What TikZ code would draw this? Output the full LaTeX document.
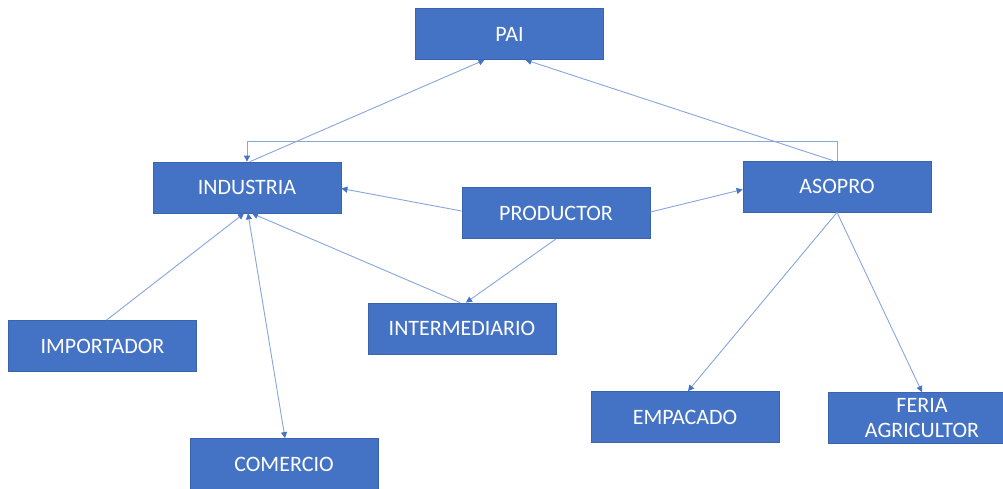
\documentclass[tikz,border=0pt]{standalone}
\usepackage{fontspec}
\setmainfont{Carlito}
\usetikzlibrary{arrows.meta}
\definecolor{boxfill}{HTML}{4472C4}
\definecolor{boxedge}{HTML}{3A64AE}
\definecolor{linkcol}{HTML}{86A6DC}
\definecolor{tipcol}{HTML}{4472C4}
\tikzset{
  orgbox/.style={draw=boxedge, line width=0.8pt, fill=boxfill, text=white,
    minimum width=188pt, minimum height=51pt, inner sep=0pt, align=center,
    font=\fontsize{22}{25}\selectfont},
  link/.style={draw=linkcol, line width=0.9pt,
    -{Triangle[width=6pt,length=6pt,fill=tipcol,color=tipcol]}},
  dlink/.style={draw=linkcol, line width=0.9pt,
    {Triangle[width=6pt,length=6pt,fill=tipcol,color=tipcol]}-{Triangle[width=6pt,length=6pt,fill=tipcol,color=tipcol]}}
}
\begin{document}
\begin{tikzpicture}[x=1pt,y=-1pt]
\useasboundingbox (0,0) rectangle (1003,488);
\fill[white] (0,0) rectangle (1003,488);
\node[orgbox] (pai) at (509.5,34) {PAI};
\node[orgbox] (ind) at (247,187.5) {INDUSTRIA};
\node[orgbox] (prod) at (556,213) {PRODUCTOR};
\node[orgbox] (aso) at (837,186.5) {ASOPRO};
\node[orgbox] (imp) at (102.5,346) {IMPORTADOR};
\node[orgbox] (inter) at (462,328.5) {INTERMEDIARIO};
\node[orgbox] (com) at (284,464) {COMERCIO};
\node[orgbox] (emp) at (685,417) {EMPACADO};
\node[orgbox] (feria) at (922,418) {FERIA\\AGRICULTOR};
\coordinate (c1) at (837,141);
\coordinate (c2) at (247,141);
% connectors
\draw[link] (aso.north) -- (c1) -- (c2) -- (ind.north);
\draw[link] ([xshift=3pt]ind.north) -- ([xshift=-25pt]pai.south);
\draw[link] ([xshift=-4pt]aso.north) -- ([xshift=16pt]pai.south);
\draw[link] ([yshift=2pt]prod.west) -- ([yshift=-1pt]ind.east);
\draw[link] ([yshift=1pt]prod.east) -- ([yshift=-3pt]aso.west);
\draw[link] (prod.south) -- ([xshift=4pt]inter.north);
\draw[link] ([xshift=-2pt]inter.north) -- ([xshift=5pt]ind.south);
\draw[link] ([xshift=4pt]imp.north) -- ([xshift=-3pt]ind.south);
\draw[dlink] ([xshift=1pt]ind.south) -- ([xshift=1pt]com.north);
\draw[link] (aso.south) -- ([xshift=3pt]emp.north);
\draw[link] (aso.south) -- ([xshift=0pt]feria.north);
\end{tikzpicture}
\end{document}
